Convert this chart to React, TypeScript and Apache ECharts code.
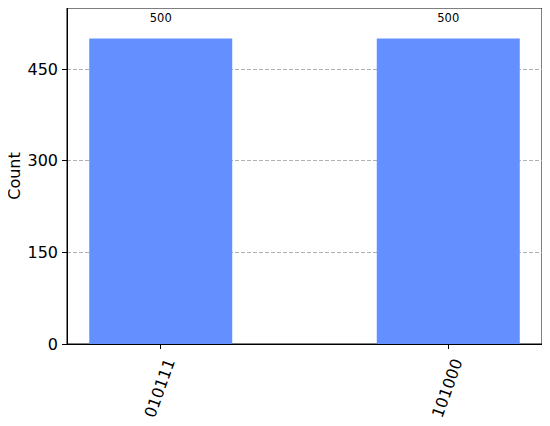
import React, { useEffect, useRef } from "react";
import * as echarts from "echarts";

const categories = ["010111", "101000"];
const counts = [500, 500];
const yTicks = [0, 150, 300, 450];

export default function App() {
  const ref = useRef<HTMLDivElement>(null);
  useEffect(() => {
    if (!ref.current) return;
    const chart = echarts.init(ref.current, null, { renderer: "svg" });
    const positions = categories.map((_, i) => i);
    chart.setOption({
      animation: false,
      textStyle: { fontFamily: "DejaVu Sans" },
      grid: {
        left: 67,
        top: 8,
        right: 8,
        bottom: 82,
        containLabel: false,
        outerBoundsMode: "none",
        show: true,
        borderColor: "#000",
        borderWidth: 1,
        backgroundColor: "transparent",
      },
      xAxis: {
        type: "value",
        min: -0.326,
        max: 1.326,
        axisLine: { show: true, onZero: false, lineStyle: { color: "#000" } },
        axisTick: {
          show: true,
          customValues: positions,
          length: 5,
          lineStyle: { color: "#000" },
        },
        axisLabel: {
          customValues: positions,
          formatter: (v: number) => categories[Math.round(v)] ?? "",
          rotate: 70,
          fontSize: 16,
          color: "#000",
          margin: 12,
          verticalAlign: "top",
          padding: [2, 0, 0, 0],
        },
        splitLine: { show: false },
      },
      yAxis: {
        type: "value",
        min: 0,
        max: 550,
        interval: 150,
        name: "Count",
        nameLocation: "middle",
        nameGap: 45,
        nameMoveOverlap: false,
        nameRotate: 90,
        nameTextStyle: { fontSize: 16, color: "#000" },
        axisLine: { show: true, onZero: false, lineStyle: { color: "#000" } },
        axisTick: {
          show: true,
          length: 5,
          customValues: yTicks,
          lineStyle: { color: "#000" },
        },
        axisLabel: {
          customValues: yTicks,
          fontSize: 16,
          color: "#000",
          margin: 9,
        },
        splitLine: {
          show: true,
          lineStyle: { color: "#b0b0b0", type: [4, 2], width: 1 },
        },
      },
      series: [
        {
          type: "bar",
          data: positions.map((p, i) => [p, counts[i]]),
          barWidth: 143,
          itemStyle: { color: "#648fff" },
          label: {
            show: true,
            position: "top",
            distance: 15,
            fontSize: 11.5,
            color: "#000",
          },
        },
      ],
    });
    return () => chart.dispose();
  }, []);
  return <div ref={ref} style={{ width: 550, height: 426, margin: -8 }} />;
}
